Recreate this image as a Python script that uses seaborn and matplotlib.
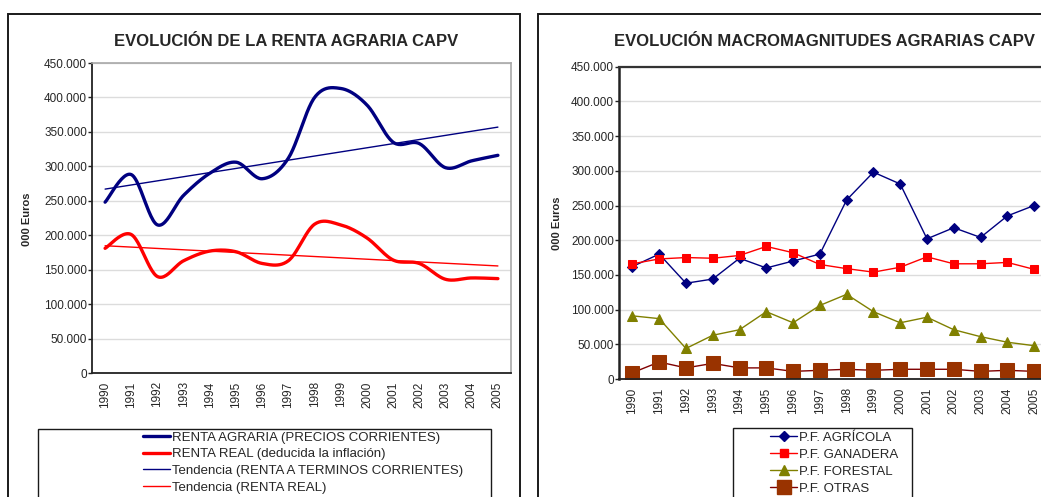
import numpy as np
import pandas as pd
import matplotlib
matplotlib.use("Agg")
import matplotlib.pyplot as plt
from matplotlib.patches import Rectangle
from matplotlib.ticker import FuncFormatter, FixedLocator
from matplotlib.lines import Line2D
import seaborn as sns

# ---------------- data ----------------
years = ["1990", "1991", "1992", "1993", "1994", "1995", "1996", "1997",
         "1998", "1999", "2000", "2001", "2002", "2003", "2004", "2005"]

renta_corriente = [248000, 288000, 215000, 258000, 290000, 306000, 282000, 312000,
                   400000, 413000, 389000, 335000, 333000, 298000, 308000, 316000]
renta_real = [181000, 201000, 140000, 163000, 177000, 176000, 159000, 163000,
              216000, 215000, 196000, 164000, 159000, 136000, 138000, 137000]

pf_agricola = [162000, 180000, 138000, 144000, 174000, 160000, 170000, 180000,
               258000, 298000, 281000, 202000, 218000, 204000, 235000, 250000]
pf_ganadera = [166000, 173000, 175000, 174000, 178000, 191000, 182000, 165000,
               159000, 154000, 161000, 176000, 166000, 166000, 168000, 158000]
pf_forestal = [91000, 87000, 44000, 63000, 71000, 97000, 81000, 106000,
               122000, 97000, 81000, 89000, 71000, 61000, 53000, 48000]
pf_otras = [9000, 24500, 16000, 22500, 16000, 16000, 11000, 12500,
            14000, 12500, 14000, 14000, 14000, 11000, 12500, 11000]

left_labels = ["RENTA AGRARIA (PRECIOS CORRIENTES)",
               "RENTA REAL (deducida la inflación)",
               "Tendencia (RENTA A TERMINOS CORRIENTES)",
               "Tendencia (RENTA REAL)"]
right_labels = ["P.F. AGRÍCOLA", "P.F. GANADERA", "P.F. FORESTAL", "P.F. OTRAS"]

# ---------------- style ----------------
sns.set_style("white")
plt.rcParams["font.family"] = ["Liberation Sans", "DejaVu Sans"]
FS = 8.5
LFS = 9.5
TFS = 12

W, H = 1041, 497
fig = plt.figure(figsize=(W / 100, H / 100), dpi=100)


def fx(px):
    return px / W


def fy(py):
    return 1 - py / H


def smooth(xv, yv, n=24):
    """Catmull-Rom curve (Excel 'smoothed line' look) through the data points."""
    xv = np.asarray(xv, float)
    yv = np.asarray(yv, float)
    px, py = [], []
    m = len(xv)
    for i in range(m - 1):
        i0, i3 = max(i - 1, 0), min(i + 2, m - 1)
        t = np.linspace(0, 1, n, endpoint=(i == m - 2))
        for arr, out in ((xv, px), (yv, py)):
            p0, p1, p2, p3 = arr[i0], arr[i], arr[i + 1], arr[i3]
            out.extend(0.5 * ((2 * p1) + (-p0 + p2) * t +
                              (2 * p0 - 5 * p1 + 4 * p2 - p3) * t ** 2 +
                              (-p0 + 3 * p1 - 3 * p2 + p3) * t ** 3))
    return np.array(px), np.array(py)


thous = FuncFormatter(lambda v, p: f"{int(round(v)):,}".replace(",", "."))
xpos = np.arange(len(years))


def style_axes(ax, spine_dark_top=False):
    ax.set_xlim(-0.5, len(years) - 0.5)
    ax.set_ylim(0, 450000)
    ax.set_yticks(np.arange(0, 450001, 50000))
    ax.yaxis.set_major_formatter(thous)
    ax.set_xticks(xpos)
    ax.set_xticklabels(years, rotation=90, fontsize=FS)
    ax.xaxis.set_minor_locator(FixedLocator(np.arange(-0.5, len(years), 1.0)))
    ax.tick_params(axis="x", which="major", length=0, pad=6)
    ax.tick_params(axis="x", which="minor", length=3.5, width=1, color="#222222", direction="out")
    ax.tick_params(axis="y", which="major", length=3, width=1, color="#222222", pad=0.5,
                   labelsize=FS, direction="out", left=True)
    ax.grid(axis="y", color="#dcdcdc", lw=1)
    ax.set_axisbelow(True)
    ax.set_xlabel("")
    ax.set_ylabel("")
    for s in ("left", "bottom"):
        ax.spines[s].set_color("#222222")
        ax.spines[s].set_linewidth(1.3)
    if spine_dark_top:
        ax.spines["top"].set_color("#333333")
        ax.spines["top"].set_linewidth(1.6)
        ax.spines["left"].set_linewidth(1.8)
        ax.spines["right"].set_visible(False)
    else:
        for s in ("top", "right"):
            ax.spines[s].set_color("#a8a8a8")
            ax.spines[s].set_linewidth(1.2)


# ---------------- left chart ----------------
axL = fig.add_axes([fx(92), fy(373), fx(511 - 92), (373 - 63) / H])
sx, sy = smooth(xpos, renta_corriente)
sns.lineplot(x=sx, y=sy, ax=axL, color="#000080", lw=2.4, estimator=None, sort=False)
sx, sy = smooth(xpos, renta_real)
sns.lineplot(x=sx, y=sy, ax=axL, color="#ff0000", lw=2.4, estimator=None, sort=False)
cA = np.polyfit(xpos, renta_corriente, 1)
cR = np.polyfit(xpos, renta_real, 1)
ends = np.array([xpos[0], xpos[-1]])
sns.lineplot(x=ends, y=np.polyval(cA, ends), ax=axL, color="#000080", lw=1.0, estimator=None)
sns.lineplot(x=ends, y=np.polyval(cR, ends), ax=axL, color="#ff0000", lw=1.0, estimator=None)
style_axes(axL)

# ---------------- right chart ----------------
axR = fig.add_axes([fx(619), fy(379), fx(1047.5 - 619), (379 - 66.7) / H])
df = pd.DataFrame({"x": np.tile(xpos, 4),
                   "valor": pf_agricola + pf_ganadera + pf_forestal + pf_otras,
                   "serie": np.repeat(right_labels, len(years))})
specs = {
    "P.F. AGRÍCOLA": dict(color="#000080", marker="D", ms=5.5, mfc="#000080", mec="#000080"),
    "P.F. GANADERA": dict(color="#ff0000", marker="s", ms=6, mfc="#ff0000", mec="#ff0000"),
    "P.F. FORESTAL": dict(color="#808000", marker="^", ms=7.5, mfc="#808000", mec="#808000"),
    "P.F. OTRAS": dict(color="#800000", marker="s", ms=10, mfc="#993300", mec="#993300"),
}
for name in right_labels:
    sp = specs[name]
    sub = df[df["serie"] == name]
    sns.lineplot(data=sub, x="x", y="valor", ax=axR, color=sp["color"], lw=1.0,
                 marker=sp["marker"], markersize=sp["ms"], markerfacecolor=sp["mfc"],
                 markeredgecolor=sp["mec"], estimator=None)
style_axes(axR, spine_dark_top=True)

# ---------------- frames, titles, labels ----------------
fig.patches.append(Rectangle((fx(8), fy(520)), fx(520 - 8), (520 - 14) / H,
                             transform=fig.transFigure, fill=False, ec="#1a1a1a", lw=1.4))
fig.patches.append(Rectangle((fx(538), fy(520)), fx(1120 - 538), (520 - 14) / H,
                             transform=fig.transFigure, fill=False, ec="#1a1a1a", lw=1.4))

fig.text(fx(286), fy(41), "EVOLUCIÓN DE LA RENTA AGRARIA CAPV", ha="center", va="center",
         fontsize=TFS, fontweight="bold")
fig.text(fx(824), fy(41), "EVOLUCIÓN MACROMAGNITUDES AGRARIAS CAPV", ha="center", va="center",
         fontsize=TFS, fontweight="bold")
fig.text(fx(27), fy(219), "000 Euros", rotation=90, ha="center", va="center",
         fontsize=8, fontweight="bold")
fig.text(fx(557), fy(223), "000 Euros", rotation=90, ha="center", va="center",
         fontsize=8, fontweight="bold")

# ---------------- legends ----------------
fig.patches.append(Rectangle((fx(38), fy(520)), fx(491 - 38), (520 - 429) / H,
                             transform=fig.transFigure, fill=False, ec="#1a1a1a", lw=1.0))
hL = [Line2D([], [], color="#000080", lw=2.4), Line2D([], [], color="#ff0000", lw=2.4),
      Line2D([], [], color="#000080", lw=1.0), Line2D([], [], color="#ff0000", lw=1.0)]
fig.legend(hL, left_labels, loc="upper left", bbox_to_anchor=(fx(143), fy(431.5)),
           frameon=False, fontsize=LFS, borderpad=0, borderaxespad=0, handlelength=2.05,
           handletextpad=0.15, labelspacing=0.33)

fig.patches.append(Rectangle((fx(733), fy(520)), fx(912 - 733), (520 - 428) / H,
                             transform=fig.transFigure, fill=False, ec="#1a1a1a", lw=1.0))
hR = []
for name in right_labels:
    sp = specs[name]
    hR.append(Line2D([], [], color=sp["color"], lw=1.0, marker=sp["marker"],
                     markersize=sp["ms"], markerfacecolor=sp["mfc"], markeredgecolor=sp["mec"]))
fig.legend(hR, right_labels, loc="upper left", bbox_to_anchor=(fx(770), fy(431.5)),
           frameon=False, fontsize=LFS, borderpad=0, borderaxespad=0, handlelength=2.05,
           handletextpad=0.15, labelspacing=0.37)

fig.savefig("out.png", dpi=100)
